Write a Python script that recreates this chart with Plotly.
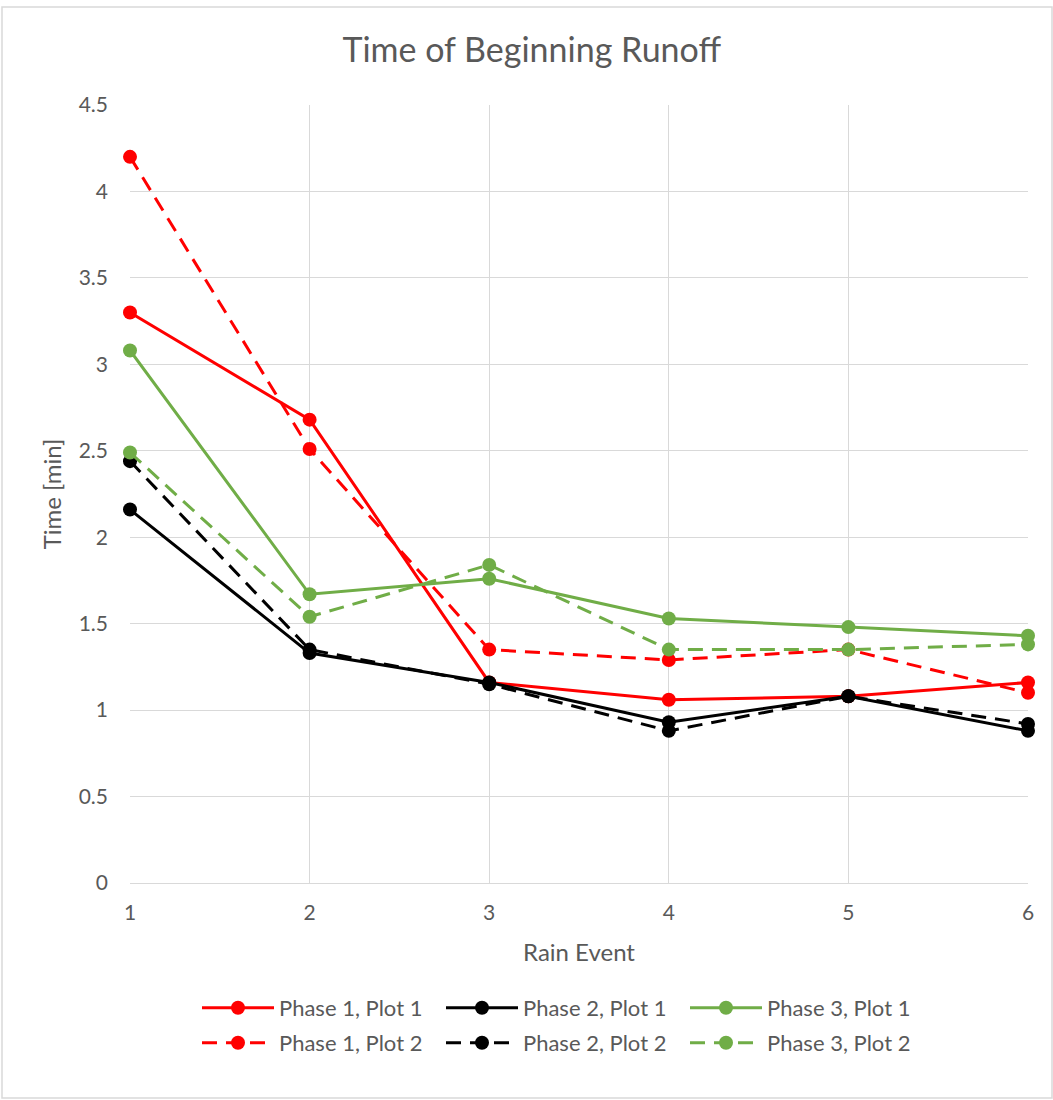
import plotly.graph_objects as go

rain_events = [1, 2, 3, 4, 5, 6]
p1_plot1 = [3.30, 2.68, 1.16, 1.06, 1.08, 1.16]
p1_plot2 = [4.20, 2.51, 1.35, 1.29, 1.35, 1.10]
p2_plot1 = [2.16, 1.33, 1.16, 0.93, 1.08, 0.88]
p2_plot2 = [2.44, 1.35, 1.15, 0.88, 1.08, 0.92]
p3_plot1 = [3.08, 1.67, 1.76, 1.53, 1.48, 1.43]
p3_plot2 = [2.49, 1.54, 1.84, 1.35, 1.35, 1.38]
y_ticks = [0, 0.5, 1, 1.5, 2, 2.5, 3, 3.5, 4, 4.5]

RED, BLACK, GREEN = "#FF0000", "#000000", "#70AD47"
FONT = "Lato"
GREY = "#595959"

W, H = 1053, 1100
L, R, T, B = 130, 25, 105, 217
pw, ph = W - L - R, H - T - B

def px_x(px):
    return (px - L) / pw

def px_y(py):
    return (H - B - py) / ph

series = [
    ("Phase 1, Plot 1", p1_plot1, RED, "solid", "legend"),
    ("Phase 2, Plot 1", p2_plot1, BLACK, "solid", "legend"),
    ("Phase 3, Plot 1", p3_plot1, GREEN, "solid", "legend"),
    ("Phase 1, Plot 2", p1_plot2, RED, "15px,9px", "legend2"),
    ("Phase 2, Plot 2", p2_plot2, BLACK, "15px,9px", "legend2"),
    ("Phase 3, Plot 2", p3_plot2, GREEN, "15px,9px", "legend2"),
]

fig = go.Figure()
for name, vals, col, dash, lg in series:
    fig.add_trace(go.Scatter(
        x=rain_events, y=vals, name=name, mode="lines+markers",
        line=dict(color=col, width=3, dash=dash),
        marker=dict(color=col, size=14),
        cliponaxis=False, legend=lg,
    ))

legend_common = dict(
    orientation="h", xanchor="left", yanchor="middle",
    font=dict(family=FONT, size=22, color=GREY),
    entrywidth=157, entrywidthmode="pixels",
    bgcolor="rgba(0,0,0,0)", itemwidth=72,
)

fig.update_layout(
    width=W, height=H,
    margin=dict(l=L, r=R, t=T, b=B),
    paper_bgcolor="white", plot_bgcolor="white",
    title=dict(text="Time of Beginning Runoff", x=0.505, xanchor="center",
               y=1 - 50 / H, yanchor="middle",
               font=dict(family=FONT, size=34, color=GREY)),
    xaxis=dict(range=[1, 6], tickvals=rain_events, showgrid=True, gridcolor="#D9D9D9",
               gridwidth=1, zeroline=False, showline=True, linecolor="#D9D9D9",
               tickfont=dict(family=FONT, size=21, color=GREY), ticks="",
               ticklabelstandoff=11,
               title=dict(text="Rain Event", font=dict(family=FONT, size=24, color=GREY), standoff=20)),
    yaxis=dict(range=[0, 4.5], tickvals=y_ticks, showgrid=True, gridcolor="#D9D9D9",
               gridwidth=1, zeroline=False, showline=False,
               tickfont=dict(family=FONT, size=21, color=GREY), ticks="",
               ticklabelstandoff=21,
               title=dict(text="Time [min]", font=dict(family=FONT, size=24, color=GREY), standoff=10)),
    legend=dict(x=px_x(197), y=px_y(1008), **legend_common),
    legend2=dict(x=px_x(197), y=px_y(1043), **legend_common),
    shapes=[dict(type="rect", xref="paper", yref="paper",
                 x0=px_x(2), x1=px_x(1052), y0=px_y(1098), y1=px_y(7),
                 line=dict(color="#D9D9D9", width=1.5), fillcolor="rgba(0,0,0,0)", layer="below")],
)

fig.write_html("out.html")
